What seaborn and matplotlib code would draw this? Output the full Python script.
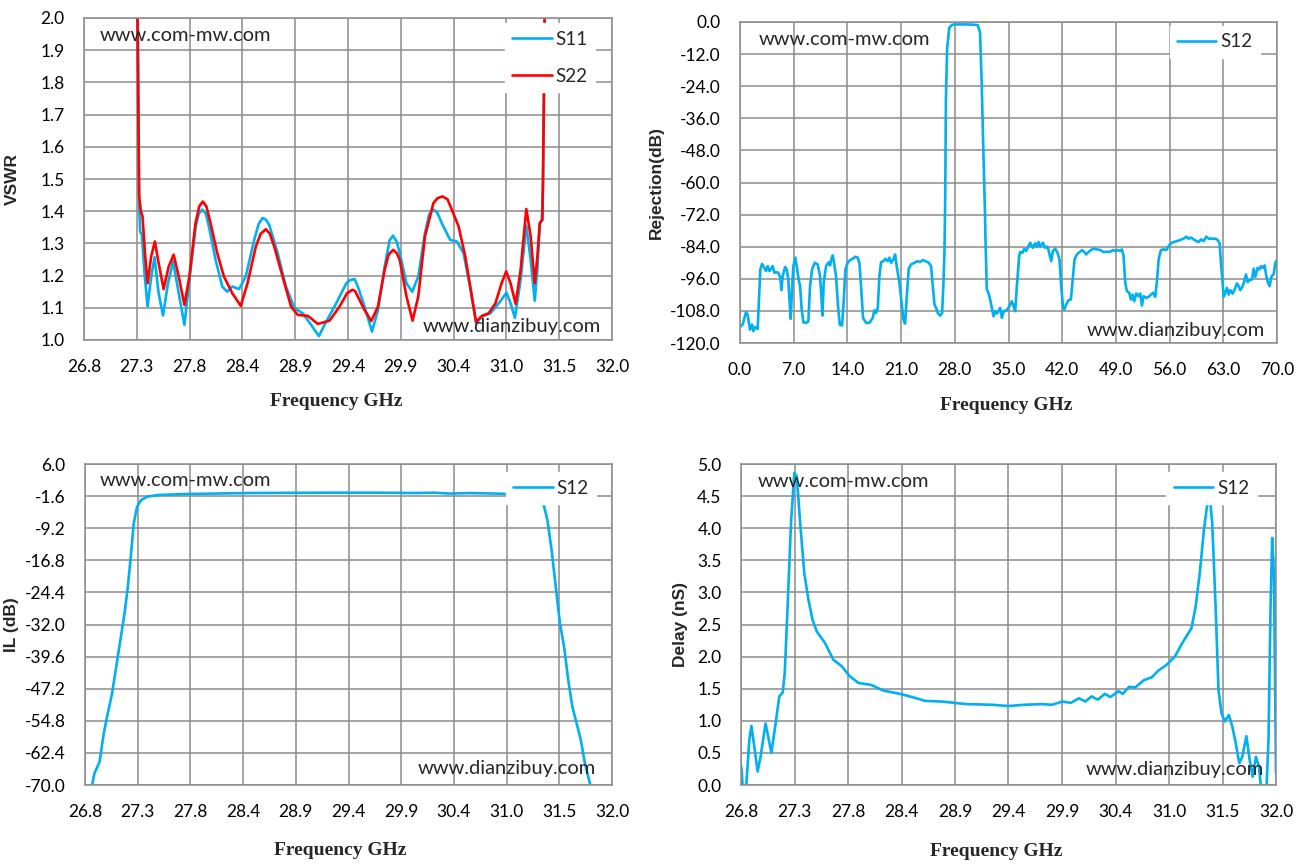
import matplotlib
matplotlib.use('Agg')
import matplotlib.pyplot as plt
import seaborn as sns
import numpy as np
from matplotlib.ticker import FormatStrFormatter

# ---------------- data ----------------
# VSWR panel
s11_freq = [27.325, 27.343, 27.353, 27.370, 27.396, 27.426, 27.462, 27.495, 27.535, 27.578,
            27.627, 27.677, 27.733, 27.789, 27.838, 27.898, 27.930, 27.964, 28.000, 28.030,
            28.096, 28.162, 28.211, 28.261, 28.327, 28.393, 28.476, 28.520, 28.558, 28.590,
            28.624, 28.707, 28.789, 28.872, 28.954, 29.037, 29.113, 29.185, 29.284, 29.383,
            29.420, 29.466, 29.497, 29.563, 29.636, 29.695, 29.761, 29.810, 29.844, 29.880,
            29.910, 29.976, 30.032, 30.092, 30.158, 30.200, 30.241, 30.280, 30.323, 30.406,
            30.472, 30.538, 30.604, 30.661, 30.720, 30.803, 30.885, 30.961, 31.001, 31.044,
            31.100, 31.156, 31.199, 31.239, 31.265, 31.289, 31.308, 31.321, 31.341]
s11_vswr = [2.2, 1.415, 1.337, 1.327, 1.207, 1.104, 1.197, 1.257, 1.145, 1.076,
            1.176, 1.244, 1.145, 1.047, 1.187, 1.348, 1.392, 1.405, 1.392, 1.353,
            1.249, 1.166, 1.150, 1.166, 1.158, 1.197, 1.311, 1.360, 1.379, 1.374,
            1.358, 1.270, 1.166, 1.099, 1.083, 1.047, 1.012, 1.057, 1.114, 1.176,
            1.186, 1.189, 1.166, 1.104, 1.026, 1.093, 1.228, 1.310, 1.324, 1.305,
            1.270, 1.176, 1.150, 1.197, 1.332, 1.390, 1.405, 1.395, 1.363, 1.311,
            1.306, 1.270, 1.161, 1.052, 1.073, 1.083, 1.114, 1.147, 1.114, 1.069,
            1.187, 1.355, 1.249, 1.122, 1.218, 1.363, 1.373, 1.477, 2.2]

s22_freq = [27.318, 27.343, 27.360, 27.376, 27.403, 27.426, 27.462, 27.498, 27.535, 27.584,
            27.634, 27.683, 27.733, 27.789, 27.838, 27.898, 27.935, 27.970, 28.005, 28.046,
            28.112, 28.178, 28.261, 28.344, 28.410, 28.492, 28.540, 28.591, 28.630, 28.674,
            28.756, 28.839, 28.905, 29.004, 29.103, 29.218, 29.317, 29.390, 29.443, 29.470,
            29.497, 29.563, 29.629, 29.695, 29.761, 29.800, 29.844, 29.880, 29.910, 29.976,
            30.036, 30.092, 30.158, 30.241, 30.280, 30.330, 30.380, 30.422, 30.489, 30.555,
            30.604, 30.661, 30.720, 30.786, 30.852, 30.912, 30.958, 31.001, 31.051, 31.100,
            31.156, 31.199, 31.239, 31.265, 31.289, 31.315, 31.331, 31.345]
s22_vswr = [2.3, 1.446, 1.400, 1.384, 1.259, 1.176, 1.260, 1.306, 1.239, 1.158,
            1.228, 1.265, 1.197, 1.109, 1.197, 1.363, 1.415, 1.430, 1.415, 1.363,
            1.270, 1.197, 1.145, 1.106, 1.176, 1.290, 1.330, 1.344, 1.330, 1.290,
            1.197, 1.104, 1.078, 1.075, 1.050, 1.060, 1.104, 1.145, 1.156, 1.152,
            1.135, 1.093, 1.059, 1.104, 1.218, 1.265, 1.280, 1.270, 1.249, 1.135,
            1.060, 1.135, 1.322, 1.425, 1.440, 1.446, 1.437, 1.405, 1.353, 1.259,
            1.166, 1.057, 1.075, 1.083, 1.114, 1.176, 1.213, 1.176, 1.112, 1.218,
            1.407, 1.322, 1.176, 1.259, 1.363, 1.373, 1.79, 2.3]

# Rejection panel (0-70 GHz)
rej_freq = [0.0, 0.35, 0.78, 1.0, 1.30, 1.57, 1.74, 2.0, 2.30, 2.43, 2.65, 2.87, 3.17, 3.39,
            3.61, 3.83, 4.04, 4.26, 4.48, 4.70, 5.0, 5.26, 5.39, 5.57, 5.87, 6.09, 6.30, 6.43,
            6.61, 6.78, 6.96, 7.22, 7.43, 7.65, 7.83, 8.04, 8.26, 8.61, 8.91, 9.13, 9.39, 9.74,
            10.13, 10.43, 10.61, 10.74, 10.91, 11.22, 11.57, 11.74, 11.96, 12.09, 12.22, 12.52,
            12.78, 13.0, 13.30, 13.48, 13.74, 14.04, 14.35, 14.70, 15.04, 15.35, 15.57, 15.78,
            16.04, 16.43, 16.87, 17.30, 17.52, 17.74, 17.96, 18.17, 18.39, 18.70, 18.96, 19.26,
            19.48, 19.70, 20.0, 20.22, 20.43, 20.78, 21.09, 21.30, 21.52, 21.74, 22.0, 22.30,
            22.74, 23.17, 23.48, 23.83, 24.17, 24.61, 24.91, 25.13, 25.35, 25.57, 25.78, 26.09,
            26.35, 26.52, 26.65, 26.75, 26.84, 27.0, 27.27, 27.65, 28.5, 29.5, 30.5, 31.0,
            31.29, 31.5, 31.72, 31.94, 32.0, 32.17, 32.39, 32.61, 32.83, 33.04, 33.26, 33.48,
            33.70, 33.91, 34.13, 34.39, 34.78, 35.13, 35.43, 35.65, 35.87, 36.09, 36.39, 36.52,
            36.83, 37.04, 37.30, 37.61, 37.83, 38.17, 38.48, 38.70, 38.91, 39.13, 39.48, 39.78,
            40.09, 40.30, 40.57, 40.78, 41.09, 41.39, 41.65, 41.87, 42.09, 42.26, 42.52, 42.83,
            43.13, 43.39, 43.61, 43.91, 44.26, 44.61, 44.87, 45.13, 45.43, 45.74, 46.09, 46.52,
            46.96, 47.39, 47.83, 48.26, 48.61, 48.91, 49.22, 49.57, 49.78, 50.0, 50.22, 50.43,
            50.74, 50.96, 51.17, 51.39, 51.65, 51.96, 52.17, 52.39, 52.61, 52.96, 53.26, 53.57,
            53.83, 54.13, 54.35, 54.57, 54.87, 55.22, 55.57, 55.87, 56.17, 56.52, 56.96, 57.39,
            57.83, 58.17, 58.48, 58.78, 59.13, 59.48, 59.78, 60.09, 60.43, 60.78, 61.09, 61.52,
            61.96, 62.26, 62.52, 62.70, 62.91, 63.04, 63.26, 63.48, 63.70, 63.91, 64.22, 64.48,
            64.78, 65.0, 65.22, 65.52, 65.74, 65.96, 66.17, 66.43, 66.74, 66.96, 67.17, 67.48,
            67.70, 67.91, 68.13, 68.39, 68.61, 68.83, 69.04, 69.26, 69.57, 69.78, 70.0]
rej_db = [-114.0, -113.1, -108.5, -109.4, -115.0, -113.1, -115.6, -114.0, -114.75, -106.25, -92.5,
          -90.4, -91.9, -93.1, -91.25, -93.1, -92.25, -91.25, -93.75, -93.5, -93.75, -95.6,
          -100.25, -95.0, -91.6, -92.5, -96.25, -103.1, -111.0, -100.0, -91.25, -88.1, -92.0,
          -96.25, -98.75, -107.5, -112.25, -112.5, -111.9, -98.75, -92.5, -90.0, -90.6, -95.0,
          -102.5, -109.75, -97.5, -91.25, -89.75, -91.0, -88.1, -87.25, -89.4, -95.0, -106.25,
          -113.1, -113.5, -106.25, -92.5, -90.0, -89.0, -88.5, -87.75, -88.1, -90.25, -98.75,
          -110.6, -112.5, -112.5, -110.6, -107.75, -108.75, -106.9, -95.0, -89.75, -89.4, -88.5,
          -89.4, -88.1, -90.0, -88.75, -86.9, -91.25, -97.5, -105.6, -111.25, -112.75, -102.5,
          -92.25, -90.6, -90.0, -89.4, -89.75, -89.0, -89.4, -90.0, -91.25, -98.75, -105.6,
          -106.9, -108.75, -109.75, -108.75, -97.5, -86.0, -66.0, -29.0, -10.0, -2.2, -1.0,
          -0.9, -0.9, -1.0, -1.2, -4.0, -22.0, -48.0, -72.0, -81.25, -100.0, -101.25, -103.75,
          -106.9, -110.0, -108.1, -109.0, -108.1, -106.9, -110.6, -108.1, -107.75, -106.25,
          -104.4, -106.0, -108.1, -98.75, -87.5, -86.0, -86.25, -84.75, -85.6, -83.75, -82.5,
          -84.4, -82.75, -84.0, -82.25, -84.0, -82.5, -84.4, -84.0, -86.25, -89.4, -85.6,
          -84.75, -86.25, -88.75, -98.75, -106.25, -107.5, -105.6, -104.0, -103.75, -95.6,
          -88.75, -86.9, -86.0, -85.25, -86.0, -86.9, -86.0, -85.25, -84.75, -85.0, -85.25,
          -86.0, -85.9, -85.9, -85.25, -85.6, -85.25, -85.6, -85.0, -87.5, -97.5, -100.6,
          -101.25, -103.75, -101.9, -104.4, -101.5, -102.5, -101.5, -106.0, -102.5, -103.1,
          -102.75, -101.9, -101.25, -102.75, -96.9, -88.75, -85.25, -85.0, -85.25, -83.75,
          -82.75, -82.25, -81.9, -81.5, -81.0, -80.25, -81.0, -80.6, -81.25, -81.9, -82.25,
          -81.25, -81.9, -80.25, -81.0, -81.0, -81.0, -81.5, -82.75, -90.0, -97.5, -102.75,
          -101.25, -99.4, -101.9, -100.25, -101.5, -100.0, -97.75, -98.75, -100.25, -98.75,
          -96.9, -94.4, -97.25, -96.5, -96.25, -92.25, -95.25, -91.9, -92.5, -91.25, -91.9,
          -91.0, -95.0, -97.5, -98.75, -95.25, -94.25, -90.0, -89.0]

# Insertion loss panel
il_freq = [26.870, 26.894, 26.944, 26.985, 27.018, 27.067, 27.108, 27.149, 27.190, 27.223,
           27.252, 27.281, 27.314, 27.355, 27.417, 27.519, 27.807, 28.424, 29.246, 29.657,
           30.068, 30.250, 30.400, 30.600, 30.890, 30.952, 31.100, 31.250, 31.322, 31.363,
           31.404, 31.445, 31.486, 31.527, 31.568, 31.609, 31.651, 31.692, 31.733, 31.786]
il_db = [-70.0, -67.2, -64.5, -57.8, -53.8, -48.3, -42.0, -35.7, -29.4, -23.0,
         -15.9, -8.05, -4.1, -2.5, -1.73, -1.34, -1.10, -0.87, -0.79, -0.79,
         -0.87, -0.80, -1.00, -0.88, -1.02, -1.10, -1.30, -2.0, -3.3, -7.3,
         -14.4, -23.0, -31.7, -37.2, -45.1, -51.5, -55.4, -59.3, -64.9, -70.0]

# Group delay panel
dly_freq = [26.800, 26.808, 26.820, 26.845, 26.881, 26.901, 26.929, 26.962, 26.990, 27.039,
            27.071, 27.095, 27.132, 27.172, 27.205, 27.225, 27.253, 27.286, 27.318, 27.342,
            27.375, 27.415, 27.456, 27.496, 27.537, 27.617, 27.698, 27.779, 27.860, 27.941,
            28.063, 28.184, 28.346, 28.508, 28.589, 28.751, 28.994, 29.236, 29.398, 29.560,
            29.722, 29.823, 29.863, 29.924, 30.005, 30.086, 30.147, 30.207, 30.268, 30.337,
            30.389, 30.470, 30.511, 30.572, 30.632, 30.713, 30.794, 30.855, 30.936, 31.017,
            31.078, 31.138, 31.178, 31.219, 31.259, 31.300, 31.350, 31.380, 31.413, 31.441,
            31.470, 31.502, 31.542, 31.575, 31.603, 31.643, 31.672, 31.712, 31.744, 31.773,
            31.805, 31.834, 31.858, 31.906, 31.927, 31.947, 31.963, 31.980, 32.000]
dly_ns = [0.31, 0.20, -0.15, -0.15, 0.70, 0.92, 0.60, 0.21, 0.44, 0.96,
          0.70, 0.50, 0.91, 1.38, 1.44, 1.74, 2.78, 4.08, 4.86, 4.81,
          4.08, 3.30, 2.88, 2.57, 2.39, 2.21, 1.95, 1.85, 1.69, 1.59,
          1.56, 1.47, 1.42, 1.35, 1.31, 1.30, 1.26, 1.25, 1.23, 1.25,
          1.26, 1.25, 1.27, 1.30, 1.28, 1.35, 1.30, 1.38, 1.33, 1.42,
          1.37, 1.46, 1.42, 1.53, 1.52, 1.63, 1.68, 1.78, 1.87, 2.00,
          2.18, 2.34, 2.44, 2.78, 3.30, 3.98, 4.60, 4.08, 2.78, 1.48,
          1.12, 0.99, 1.09, 0.91, 0.70, 0.34, 0.44, 0.76, 0.39, 0.13,
          0.44, 0.29, -0.10, -0.10, 0.70, 2.78, 3.85, 3.30, 0.18]

# ---------------- drawing ----------------
BLUE = '#00B0F0'
RED = '#FF0000'
GRID = '#8c8c8c'

sns.set_style('whitegrid')
plt.rcParams['font.family'] = ['Lato', 'DejaVu Sans']

fig = plt.figure(figsize=(13, 8.66), dpi=100)
W, H = 1300, 866


def make_axes(left, top, right, bottom):
    return fig.add_axes([left / W, 1 - bottom / H, (right - left) / W, (bottom - top) / H])


def style(ax, xlim, xticks, ylim, yticks, ylabel, ylab_x, xlab_xy):
    ax.set_xlim(*xlim)
    ax.set_ylim(*ylim)
    ax.set_xticks(xticks)
    ax.set_yticks(yticks)
    ax.xaxis.set_major_formatter(FormatStrFormatter('%.1f'))
    ax.yaxis.set_major_formatter(FormatStrFormatter('%.1f'))
    ax.grid(True, color=GRID, linewidth=1.1)
    for sp in ax.spines.values():
        sp.set_color(GRID)
        sp.set_linewidth(1.1)
    ax.tick_params(axis='both', direction='out', length=6, width=1.1, color=GRID,
                   labelsize=12.5, labelcolor='black', pad=8)
    ax.set_ylabel(ylabel, fontsize=12.5, fontweight='bold', family='Liberation Sans')
    ax.yaxis.set_label_coords(ylab_x, 0.5)
    ax.set_xlabel('Frequency GHz', fontsize=14, fontweight='bold', family='Liberation Serif')
    ax.xaxis.set_label_coords(*xlab_xy)


def legend(ax, anchor, spacing=0.75):
    leg = ax.legend(loc='upper right', bbox_to_anchor=anchor, borderaxespad=0,
                    frameon=True, fontsize=13.5, handlelength=2.1, handletextpad=0.2,
                    labelspacing=spacing, borderpad=0.4, fancybox=False)
    leg.get_frame().set_edgecolor('white')
    leg.get_frame().set_facecolor('white')
    leg.get_frame().set_alpha(1)


def marks(ax, top_xy, bot_xy):
    ax.text(top_xy[0], top_xy[1], 'www.com-mw.com', transform=ax.transAxes,
            ha='left', va='center', fontsize=14.5, zorder=6)
    ax.text(bot_xy[0], bot_xy[1], 'www.dianzibuy.com', transform=ax.transAxes,
            ha='right', va='center', fontsize=14.5, zorder=6)


def trace(ax, x, y, color, label):
    sns.lineplot(x=x, y=y, ax=ax, color=color, linewidth=1.9, label=label,
                 estimator=None, sort=False, solid_joinstyle='round')


freq_ticks = np.linspace(26.8, 32.0, 11)

# VSWR
ax1 = make_axes(84, 18, 612, 340)
trace(ax1, s11_freq, s11_vswr, BLUE, 'S11')
trace(ax1, s22_freq, s22_vswr, RED, 'S22')
style(ax1, (26.8, 32.0), freq_ticks, (1.0, 2.0), np.linspace(1.0, 2.0, 11), 'VSWR',
      -0.122, (0.477, -0.165))
legend(ax1, (0.968, 0.984), spacing=1.07)
marks(ax1, (0.030, 0.947), (0.979, 0.043))

# Rejection
ax2 = make_axes(740, 22, 1277, 343)
trace(ax2, rej_freq, rej_db, BLUE, 'S12')
style(ax2, (0, 70), np.arange(0, 71, 7), (-120, 0), np.arange(-120, 1, 12), 'Rejection(dB)',
      -0.1415, (0.495, -0.168))
legend(ax2, (0.968, 0.988))
marks(ax2, (0.034, 0.947), (0.978, 0.040))

# Insertion loss
ax3 = make_axes(85, 464, 612, 785)
trace(ax3, il_freq, il_db, BLUE, 'S12')
style(ax3, (26.8, 32.0), freq_ticks, (-70, 6), np.linspace(-70, 6, 11), 'IL (dB)',
      -0.125, (0.484, -0.178))
legend(ax3, (0.970, 0.975))
marks(ax3, (0.027, 0.950), (0.970, 0.050))

# Group delay
ax4 = make_axes(741, 464, 1276, 785)
trace(ax4, dly_freq, dly_ns, BLUE, 'S12')
style(ax4, (26.8, 32.0), freq_ticks, (0, 5), np.linspace(0, 5, 11), 'Delay (nS)',
      -0.099, (0.477, -0.181))
legend(ax4, (0.964, 0.975))
marks(ax4, (0.032, 0.944), (0.978, 0.047))

fig.savefig('out.png', dpi=100, facecolor='white')
